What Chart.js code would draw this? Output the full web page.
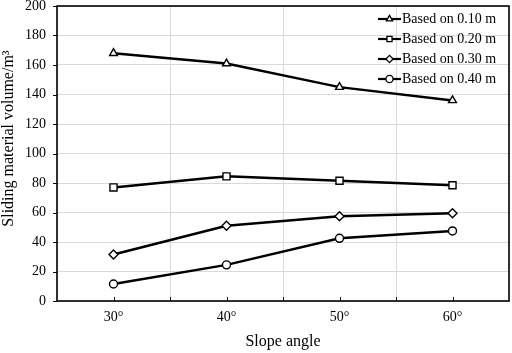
<!DOCTYPE html>
<html>
<head>
<meta charset="utf-8">
<script src="https://cdn.jsdelivr.net/npm/chart.js@4"></script>
<style>
html,body{margin:0;padding:0;background:#fff;}
#wrap{width:512px;height:353px;position:relative;}
</style>
</head>
<body>
<div id="wrap"><canvas id="c"></canvas></div>
<script>
const categories = ['30°', '40°', '50°', '60°'];
const seriesNames = ['Based on 0.10 m', 'Based on 0.20 m', 'Based on 0.30 m', 'Based on 0.40 m'];
const based010 = [168, 161, 145, 136];
const based020 = [77, 84.5, 81.5, 78.5];
const based030 = [31.5, 51, 57.5, 59.5];
const based040 = [11.5, 24.5, 42.5, 47.5];
const xTitle = 'Slope angle';
const yTitle = 'Sliding material volume/m³';

const FONT = '"Liberation Serif", "Times New Roman", serif';
const styles = [
  {pointStyle: 'triangle', pointRadius: 4.5},
  {pointStyle: 'rect', pointRadius: 5},
  {pointStyle: 'rectRot', pointRadius: 4.5},
  {pointStyle: 'circle', pointRadius: 4}
];
const values = [based010, based020, based030, based040];

function drawMarker(ctx, style, x, y, r) {
  ctx.beginPath();
  if (style === 'triangle') {
    const s = r * Math.sqrt(3) / 2;
    ctx.moveTo(x, y - r);
    ctx.lineTo(x + s, y + r / 2);
    ctx.lineTo(x - s, y + r / 2);
    ctx.closePath();
  } else if (style === 'rect') {
    const s = r * Math.SQRT1_2;
    ctx.rect(x - s, y - s, 2 * s, 2 * s);
  } else if (style === 'rectRot') {
    ctx.moveTo(x - r, y); ctx.lineTo(x, y - r); ctx.lineTo(x + r, y); ctx.lineTo(x, y + r); ctx.closePath();
  } else {
    ctx.arc(x, y, r, 0, Math.PI * 2);
  }
  ctx.fillStyle = '#fff';
  ctx.fill();
  ctx.lineWidth = 1.3;
  ctx.strokeStyle = '#000';
  ctx.stroke();
}

const extras = {
  id: 'extras',
  beforeDatasetsDraw(chart) {
    const ctx = chart.ctx;
    const ca = chart.chartArea;
    ctx.save();
    ctx.strokeStyle = '#000';
    ctx.lineWidth = 1.6;
    ctx.strokeRect(ca.left, ca.top, ca.right - ca.left, ca.bottom - ca.top);
    const xs = chart.scales.x;
    const ys = chart.scales.y;
    ctx.lineWidth = 1;
    const n = categories.length;
    for (let i = 0; i < n; i++) {
      const c = xs.getPixelForValue(i);
      const positions = [c];
      if (i < n - 1) positions.push((c + xs.getPixelForValue(i + 1)) / 2);
      positions.forEach(px => {
        ctx.beginPath();
        ctx.moveTo(Math.round(px) + 0.5, ca.bottom);
        ctx.lineTo(Math.round(px) + 0.5, ca.bottom - 4);
        ctx.stroke();
      });
    }
    ys.ticks.forEach(t => {
      const py = Math.round(ys.getPixelForValue(t.value)) + 0.5;
      ctx.beginPath();
      ctx.moveTo(ca.left, py);
      ctx.lineTo(ca.left - 4, py);
      ctx.stroke();
    });
    ctx.restore();
  },
  afterDraw(chart) {
    const ctx = chart.ctx;
    const ca = chart.chartArea;
    ctx.save();
    ctx.fillStyle = '#000';
    ctx.font = '16px ' + FONT;
    ctx.textAlign = 'center';
    ctx.textBaseline = 'middle';
    ctx.fillText(xTitle, (ca.left + ca.right) / 2, 342);
    ctx.save();
    ctx.translate(9, 138.5);
    ctx.rotate(-Math.PI / 2);
    ctx.fillText(yTitle, 0, 0);
    ctx.restore();
    ctx.font = '14px ' + FONT;
    ctx.textAlign = 'left';
    chart.data.datasets.forEach((ds, i) => {
      const y = 19 + 20 * i;
      ctx.beginPath();
      ctx.strokeStyle = '#000';
      ctx.lineWidth = 2.2;
      ctx.moveTo(378, y);
      ctx.lineTo(401, y);
      ctx.stroke();
      drawMarker(ctx, ds.pointStyle, 389.5, y, 3.6);
      ctx.fillStyle = '#000';
      ctx.fillText(ds.label, 402, y + 0.5);
    });
    ctx.restore();
  }
};

new Chart(document.getElementById('c'), {
  type: 'line',
  data: {
    labels: categories,
    datasets: values.map((v, i) => ({
      label: seriesNames[i],
      data: v,
      borderColor: '#000',
      borderWidth: 2.5,
      backgroundColor: '#fff',
      pointStyle: styles[i].pointStyle,
      pointRadius: styles[i].pointRadius,
      pointBorderWidth: 1.4,
      pointBackgroundColor: '#fff',
      pointBorderColor: '#000',
      tension: 0
    }))
  },
  options: {
    responsive: true,
    maintainAspectRatio: false,
    animation: false,
    layout: {autoPadding: false, padding: {top: 6, right: 3, bottom: 0, left: 0}},
    plugins: {legend: {display: false}, tooltip: {enabled: false}},
    scales: {
      x: {
        type: 'category',
        offset: true,
        grid: {offset: true, color: '#d9d9d9', lineWidth: 1, drawTicks: false},
        border: {display: false},
        ticks: {color: '#000', font: {family: FONT, size: 14, lineHeight: 2.4}, padding: 0, maxRotation: 0},
        afterFit(scale) { scale.height = 52; }
      },
      y: {
        min: 0, max: 200,
        grid: {color: '#d9d9d9', lineWidth: 1, drawTicks: true, tickLength: 11, tickColor: 'rgba(0,0,0,0)'},
        border: {display: false},
        ticks: {stepSize: 20, color: '#000', font: {family: FONT, size: 14, lineHeight: 0.857}, padding: 0},
        afterFit(scale) { scale.width = 57; }
      }
    }
  },
  plugins: [extras]
});
</script>
</body>
</html>
